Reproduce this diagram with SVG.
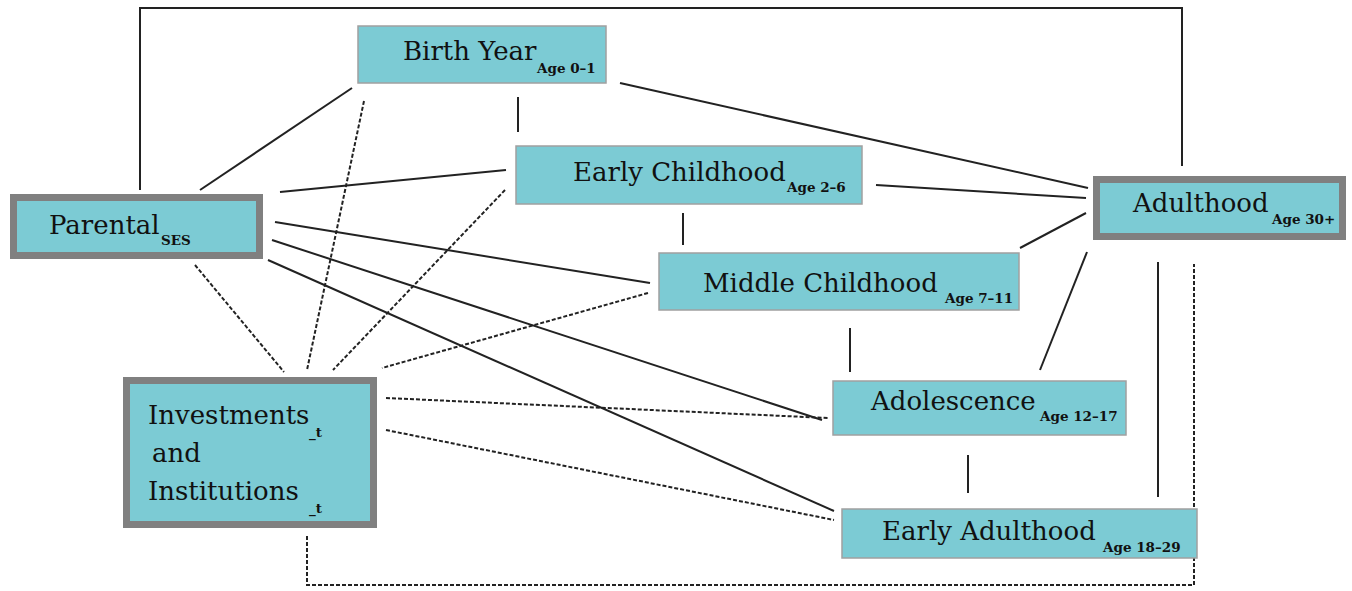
<svg xmlns="http://www.w3.org/2000/svg" width="1352" height="591" viewBox="0 0 1352 591">
<style>
.box{fill:#7ccbd4;stroke:#a0a0a0;stroke-width:1.5}
.tbox{fill:#7ccbd4;stroke:#808080;stroke-width:7}
.lbl{font-family:"DejaVu Serif","Liberation Serif",serif;font-size:26px;fill:#111}
.sub{font-family:"DejaVu Serif","Liberation Serif",serif;font-size:13.5px;font-weight:bold;fill:#111}
.s{stroke:#222;stroke-width:2;fill:none}
.d{stroke:#222;stroke-width:2;fill:none;stroke-dasharray:4 2}
</style>
<rect width="1352" height="591" fill="#fff"/>
<g id="connectors">
<polyline class="s" points="140,190 140,8 1182,8 1182,166"/>
<line class="s" x1="200" y1="190" x2="352" y2="88"/>
<line class="s" x1="280" y1="192" x2="506" y2="170"/>
<line class="s" x1="275" y1="222" x2="650" y2="283"/>
<line class="s" x1="272" y1="240" x2="822" y2="420"/>
<line class="s" x1="268" y1="260" x2="834" y2="511"/>
<line class="s" x1="518" y1="97" x2="518" y2="132"/>
<line class="s" x1="620" y1="83" x2="1088" y2="188"/>
<line class="s" x1="876" y1="185" x2="1086" y2="198"/>
<line class="s" x1="683" y1="213" x2="683" y2="245"/>
<line class="s" x1="1020" y1="248" x2="1086" y2="213"/>
<line class="s" x1="850" y1="328" x2="850" y2="372"/>
<line class="s" x1="1040" y1="370" x2="1087" y2="252"/>
<line class="s" x1="968" y1="455" x2="968" y2="493"/>
<line class="s" x1="1158" y1="262" x2="1158" y2="497"/>
<line class="d" x1="195" y1="265" x2="284" y2="372"/>
<line class="d" x1="364" y1="101" x2="307" y2="370"/>
<line class="d" x1="505" y1="190" x2="333" y2="370"/>
<line class="d" x1="648" y1="293" x2="382" y2="368"/>
<line class="d" x1="386" y1="398" x2="828" y2="418"/>
<line class="d" x1="386" y1="430" x2="834" y2="520"/>
<polyline class="d" points="307,536 307,585 1194,585 1194,264"/>
</g>
<g id="birth-year">
<rect class="box" x="358" y="26" width="248" height="57"/>
<text class="lbl" x="403" y="60">Birth Year</text>
<text class="sub" x="537" y="73">Age 0–1</text>
</g>
<g id="early-childhood">
<rect class="box" x="516" y="146" width="346" height="58"/>
<text class="lbl" x="573" y="181">Early Childhood</text>
<text class="sub" x="787" y="192">Age 2–6</text>
</g>
<g id="middle-childhood">
<rect class="box" x="659" y="253" width="360" height="57"/>
<text class="lbl" x="703" y="292">Middle Childhood</text>
<text class="sub" x="945" y="303">Age 7–11</text>
</g>
<g id="adolescence">
<rect class="box" x="833" y="381" width="293" height="54"/>
<text class="lbl" x="871" y="410">Adolescence</text>
<text class="sub" x="1040" y="421">Age 12–17</text>
</g>
<g id="early-adulthood">
<rect class="box" x="842" y="509" width="355" height="49"/>
<text class="lbl" x="882" y="540">Early Adulthood</text>
<text class="sub" x="1103" y="552">Age 18–29</text>
</g>
<g id="parental">
<rect class="tbox" x="13.5" y="197.5" width="246" height="58"/>
<text class="lbl" x="49" y="234">Parental</text>
<text class="sub" x="161" y="245">SES</text>
</g>
<g id="adulthood">
<rect class="tbox" x="1096.5" y="179.5" width="246" height="57"/>
<text class="lbl" x="1133" y="212">Adulthood</text>
<text class="sub" x="1272" y="224">Age 30+</text>
</g>
<g id="investments">
<rect class="tbox" x="126.5" y="380.5" width="247" height="144"/>
<text class="lbl" x="148" y="424">Investments</text>
<text class="sub" x="309" y="437">_t</text>
<text class="lbl" x="152" y="462">and</text>
<text class="lbl" x="148" y="500">Institutions</text>
<text class="sub" x="309" y="513">_t</text>
</g>
</svg>
